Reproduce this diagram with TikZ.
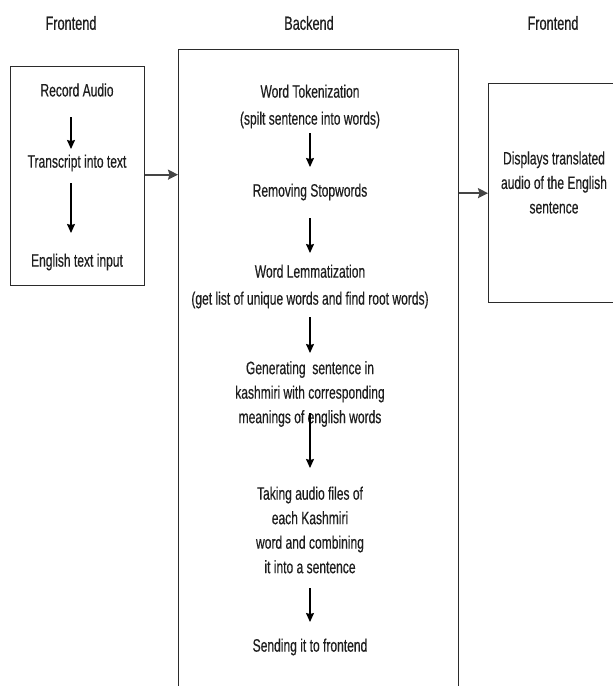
\documentclass[tikz,border=0pt]{standalone}
\usepackage{fontspec}
\setmainfont{Liberation Sans}[FakeStretch=0.67,FakeBold=0.4]
\usetikzlibrary{arrows.meta}
\definecolor{ink}{HTML}{1E1E1E}
\definecolor{frame}{HTML}{2B2B2B}
\definecolor{link}{HTML}{454545}
\begin{document}
\begin{tikzpicture}[x=1pt,y=-1pt,
  panel/.style={draw=frame,line width=1.3pt,inner sep=0,anchor=north west},
  label/.style={font=\fontsize{18}{24.5}\selectfont,align=center,inner sep=0,text=ink},
  wide/.style={font=\fontsize{18}{27}\selectfont},
  heading/.style={font=\fontsize{19}{22}\selectfont,inner sep=0,text=ink},
  flow/.style={draw=black,line width=1.1pt,-{Stealth[length=9pt,width=8pt,inset=1pt]}},
  handoff/.style={draw=link,line width=1.8pt,-{Stealth[length=10pt,width=10pt,inset=1.5pt]}}]
\path[use as bounding box] (0,0) rectangle (613,686);
\clip (0,0) rectangle (613,686);

% column headings
\node[heading] (h1) at (71,23) {Frontend};
\node[heading] (h2) at (309,23) {Backend};
\node[heading] (h3) at (553,23) {Frontend};

% the three panels
\node[panel,minimum width=134pt,minimum height=219pt] (fe1) at (10,66) {};
\node[panel,minimum width=280pt,minimum height=680pt] (be) at (178,49) {};
\node[panel,minimum width=150pt,minimum height=219pt] (fe2) at (488,83) {};

% input side
\node[label] (rec) at (77,90) {Record Audio};
\node[label] (trn) at (77,163) {Transcript into text};
\node[label] (eng) at (77,262) {English text input};

\draw[flow,shorten <=27pt,shorten >=14pt] ([xshift=-6pt]rec.center) -- ([xshift=-6pt]trn.center);
\draw[flow,shorten <=20pt,shorten >=29pt] ([xshift=-6pt]trn.center) -- ([xshift=-6pt]eng.center);

% processing pipeline
\node[label,wide] (tok) at (310,106.5) {Word Tokenization\\(spilt sentence into words)};
\node[label] (stop) at (310,192) {Removing Stopwords};
\node[label,wide] (lem) at (310,286.5) {Word Lemmatization\\(get list of unique words and find root words)};
\node[label] (gen) at (310,394) {Generating\ \ sentence in\\kashmiri with corresponding\\meanings of english words};
\node[label] (take) at (310,530) {Taking audio files of\\each Kashmiri\\word and combining\\it into a sentence};
\node[label] (send) at (310,647) {Sending it to frontend};

\draw[flow,shorten <=26.5pt,shorten >=25pt] (tok.center) -- (stop.center);
\draw[flow,shorten <=26pt,shorten >=33.5pt] (stop.center) -- (lem.center);
\draw[flow,shorten <=30.5pt,shorten >=41pt] (lem.center) -- (gen.center);
\draw[flow,shorten <=19pt,shorten >=62pt] (gen.center) -- (take.center);
\draw[flow,shorten <=58pt,shorten >=25pt] (take.center) -- (send.center);

% output side
\node[label] (disp) at (554,182.5) {Displays translated\\audio of the English\\sentence};

% hand-offs between panels
\draw[handoff] ([yshift=1.5pt]fe1.east) -- ([yshift=1.5pt]fe1.east -| be.west);
\draw[handoff] (be.east |- fe2.west) -- (fe2.west);
\end{tikzpicture}
\end{document}
